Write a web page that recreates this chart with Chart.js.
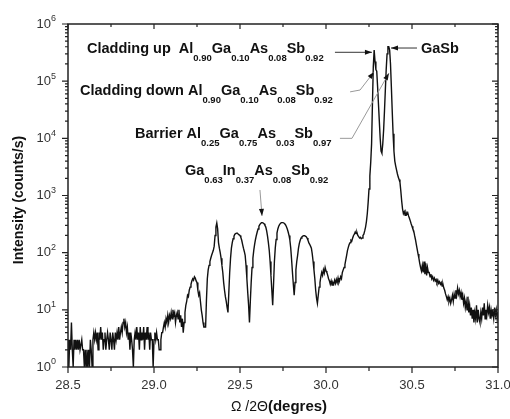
<!DOCTYPE html>
<html>
<head>
<meta charset="utf-8">
<script src="https://cdn.jsdelivr.net/npm/chart.js@4.4.1/dist/chart.umd.min.js"></script>
<style>
  html, body { margin: 0; padding: 0; background: #fff; }
  #wrap { width: 510px; height: 419px; }
</style>
</head>
<body>
<div id="wrap"><canvas id="xrd"></canvas></div>
<script>
// Omega/2Theta scan, counts/s, one reading every 0.005 deg
const scanStep = 0.005;

// 28.500 - 29.295
const backgroundStart = 28.5;
const backgroundCounts = [
  3, 1, 3, 2, 6, 2, 1, 3, 2, 3,
  2, 3, 2, 3, 2, 2, 3, 2, 2, 1,
  2, 1, 2, 1, 2, 1, 3, 2, 1, 3,
  4, 3, 4, 3, 4, 2, 4, 3, 5, 3,
  4, 2, 3, 4, 2, 3, 4, 3, 2, 4,
  3, 2, 4, 3, 2, 4, 3, 4, 3, 5,
  3, 4, 5, 4, 6, 7, 5, 6, 4, 5,
  3, 4, 2, 4, 3, 2, 1, 3, 4, 3,
  5, 3, 4, 2, 5, 3, 4, 3, 5, 2,
  4, 3, 5, 3, 4, 2, 4, 3, 3, 1,
  3, 4, 3, 4, 3, 3, 2, 2, 3, 4,
  4, 5, 6, 5, 7, 6, 8, 6, 8, 7,
  9, 7, 10, 8, 9, 6, 8, 9, 7, 10,
  6, 8, 5, 7, 4, 6, 9, 12, 14, 18,
  17, 22, 25, 28, 32, 35, 33, 38, 36, 32,
  30, 22, 18, 20, 14, 10, 8, 6, 5, 5
];

// 29.300 - 30.215 (GaInAsSb thickness fringes)
const fringeStart = 29.3;
const fringeCounts = [
  5, 15, 35, 50, 60, 70, 80, 90, 100, 110,
  130, 200, 280, 330, 260, 150, 120, 100, 80, 60,
  45, 30, 22, 17, 14, 11, 9, 20, 45, 80,
  120, 150, 175, 195, 210, 215, 220, 220, 210, 205,
  200, 185, 165, 140, 120, 105, 90, 60, 35, 20,
  12, 6, 14, 30, 55, 80, 110, 140, 170, 200,
  230, 260, 290, 310, 325, 335, 335, 330, 320, 300,
  280, 240, 195, 150, 110, 70, 40, 22, 12, 28,
  70, 120, 170, 220, 260, 290, 310, 325, 335, 335,
  335, 330, 320, 305, 285, 260, 230, 200, 165, 120,
  75, 45, 28, 18, 30, 50, 70, 90, 120, 145,
  165, 180, 190, 195, 198, 198, 195, 190, 180, 165,
  150, 140, 130, 120, 95, 70, 50, 35, 22, 16,
  13, 18, 25, 30, 38, 45, 40, 50, 44, 55,
  48, 45, 40, 35, 32, 28, 32, 27, 30, 28,
  33, 29, 34, 30, 36, 30, 33, 38, 35, 45,
  50, 55, 62, 75, 90, 110, 125, 140, 150, 165,
  160, 180, 200, 210, 230, 215, 225, 200, 190, 180,
  185, 175, 180, 200
];

// 30.220 - 30.395 (cladding and GaSb substrate peaks)
const peakStart = 30.22;
const peakCounts = [
  210, 240, 280, 350, 480, 750, 1300, 2200, 3800, 8000,
  40000, 180000, 350000, 220000, 160000, 150000, 80000, 40000, 20000, 10000,
  6000, 5500, 8000, 14000, 30000, 70000, 160000, 300000, 400000, 400000,
  350000, 200000, 80000, 30000, 12000, 6000
];

// 30.400 - 31.000
const tailStart = 30.4;
const tailCounts = [
  4000, 3300, 2800, 2400, 2100, 1900, 1700, 1200, 800, 580,
  480, 520, 450, 510, 470, 500, 440, 400, 360, 320,
  290, 260, 240, 200, 170, 140, 115, 95, 80, 65,
  55, 48, 60, 45, 70, 42, 65, 40, 55, 45,
  45, 38, 42, 35, 38, 33, 36, 32, 34, 30,
  33, 29, 31, 28, 30, 26, 28, 24, 22, 19,
  17, 15, 17, 14, 16, 13, 15, 18, 14, 19,
  16, 22, 18, 24, 19, 22, 17, 20, 15, 18,
  13, 16, 11, 14, 10, 17, 9, 12, 8, 11,
  7, 10, 6, 9, 7, 12, 6, 10, 7, 6,
  9, 7, 11, 8, 13, 7, 10, 8, 12, 9,
  11, 7, 10, 8, 9, 7, 11, 8, 10, 7,
  9
];

const xTicks = [28.5, 29.0, 29.5, 30.0, 30.5, 31.0];
const xMinorTicks = [28.75, 29.25, 29.75, 30.25, 30.75];
const yDecades = [0, 1, 2, 3, 4, 5, 6];

// labels: [text, subscript, text, subscript ...]
const notes = [
  { parts: ['Cladding up  Al', '0.90', 'Ga', '0.10', 'As', '0.08', 'Sb', '0.92'], x: 87, y: 53 },
  { parts: ['Cladding down Al', '0.90', 'Ga', '0.10', 'As', '0.08', 'Sb', '0.92'], x: 80, y: 95 },
  { parts: ['Barrier Al', '0.25', 'Ga', '0.75', 'As', '0.03', 'Sb', '0.97'], x: 135, y: 138 },
  { parts: ['Ga', '0.63', 'In', '0.37', 'As', '0.08', 'Sb', '0.92'], x: 185, y: 175 },
  { parts: ['GaSb'], x: 421, y: 53 }
];

// arrow paths in data units, tip last
const arrows = [
  { path: [[30.052, 3.2e5], [30.267, 3.2e5]], color: '#333' },
  { path: [[30.529, 3.8e5], [30.378, 3.8e5]], color: '#333' },
  { path: [[30.140, 6.5e4], [30.198, 7.0e4], [30.279, 1.45e5]], color: '#999' },
  { path: [[30.081, 1.0e4], [30.151, 1.0e4], [30.366, 1.38e5]], color: '#999' },
  { path: [[29.616, 1250], [29.628, 440]], color: '#999' }
];

const FONT = '"Liberation Sans", Arial, sans-serif';

function toPoints(start, counts) {
  return counts.map((c, i) => ({ x: +(start + i * scanStep).toFixed(3), y: c }));
}

const scan = [
  ...toPoints(backgroundStart, backgroundCounts),
  ...toPoints(fringeStart, fringeCounts),
  ...toPoints(peakStart, peakCounts),
  ...toPoints(tailStart, tailCounts)
];

function drawFormula(ctx, parts, x, y) {
  parts.forEach((s, i) => {
    const sub = i % 2 === 1;
    ctx.font = sub ? 'bold 9.5px ' + FONT : 'bold 14.5px ' + FONT;
    ctx.fillText(s, x, sub ? y + 7.5 : y);
    x += ctx.measureText(s).width;
  });
}

const framePlugin = {
  id: 'frame',
  afterDatasetsDraw(chart) {
    const { ctx, chartArea: a, scales: { x, y } } = chart;
    ctx.save();
    ctx.strokeStyle = '#222';
    ctx.fillStyle = '#333';
    ctx.lineWidth = 1.5;
    ctx.strokeRect(a.left, a.top, a.right - a.left, a.bottom - a.top);

    ctx.lineWidth = 1.2;
    ctx.beginPath();
    xTicks.forEach(v => {
      const px = x.getPixelForValue(v);
      ctx.moveTo(px, a.bottom); ctx.lineTo(px, a.bottom + 6);
      ctx.moveTo(px, a.top); ctx.lineTo(px, a.top + 5);
    });
    xMinorTicks.forEach(v => {
      const px = x.getPixelForValue(v);
      ctx.moveTo(px, a.bottom); ctx.lineTo(px, a.bottom + 4);
      ctx.moveTo(px, a.top); ctx.lineTo(px, a.top + 3);
    });
    yDecades.forEach(n => {
      const py = y.getPixelForValue(Math.pow(10, n));
      ctx.moveTo(a.left - 6, py); ctx.lineTo(a.left, py);
      ctx.moveTo(a.right - 6, py); ctx.lineTo(a.right, py);
      if (n < 6) {
        for (let k = 2; k <= 9; k++) {
          const pm = y.getPixelForValue(k * Math.pow(10, n));
          ctx.moveTo(a.left - 3, pm); ctx.lineTo(a.left, pm);
          ctx.moveTo(a.right - 3, pm); ctx.lineTo(a.right, pm);
        }
      }
    });
    ctx.stroke();

    // tick labels
    ctx.font = '13px ' + FONT;
    ctx.textAlign = 'center';
    ctx.textBaseline = 'middle';
    xTicks.forEach(v => ctx.fillText(v.toFixed(1), x.getPixelForValue(v), a.bottom + 18));
    yDecades.forEach(n => {
      const py = y.getPixelForValue(Math.pow(10, n));
      ctx.font = '13px ' + FONT;
      ctx.textAlign = 'right';
      ctx.fillText('10', a.left - 17, py);
      ctx.font = '9px ' + FONT;
      ctx.textAlign = 'left';
      ctx.fillText(String(n), a.left - 17, py - 5);
    });

    // axis titles
    ctx.fillStyle = '#111';
    ctx.save();
    ctx.translate(19, 200);
    ctx.rotate(-Math.PI / 2);
    ctx.font = 'bold 14px ' + FONT;
    ctx.textAlign = 'center';
    ctx.fillText('Intensity (counts/s)', 0, 0);
    ctx.restore();

    ctx.textAlign = 'left';
    ctx.textBaseline = 'alphabetic';
    ctx.font = '14px ' + FONT;
    ctx.fillText('\u03A9 /2\u0398', 231, 411);
    const w = ctx.measureText('\u03A9 /2\u0398').width;
    ctx.font = 'bold 15px ' + FONT;
    ctx.fillText('(degres)', 231 + w, 411);

    // annotations
    notes.forEach(n => drawFormula(ctx, n.parts, n.x, n.y));

    arrows.forEach(ar => {
      const pts = ar.path.map(p => [x.getPixelForValue(p[0]), y.getPixelForValue(p[1])]);
      ctx.strokeStyle = ar.color;
      ctx.lineWidth = 1;
      ctx.beginPath();
      pts.forEach((p, i) => i ? ctx.lineTo(p[0], p[1]) : ctx.moveTo(p[0], p[1]));
      ctx.stroke();
      const [tx, ty] = pts[pts.length - 1];
      const [fx, fy] = pts[pts.length - 2];
      const ang = Math.atan2(ty - fy, tx - fx);
      ctx.fillStyle = '#111';
      ctx.beginPath();
      ctx.moveTo(tx, ty);
      ctx.lineTo(tx - 7 * Math.cos(ang) + 2.5 * Math.sin(ang), ty - 7 * Math.sin(ang) - 2.5 * Math.cos(ang));
      ctx.lineTo(tx - 7 * Math.cos(ang) - 2.5 * Math.sin(ang), ty - 7 * Math.sin(ang) + 2.5 * Math.cos(ang));
      ctx.closePath();
      ctx.fill();
    });
    ctx.restore();
  }
};

new Chart(document.getElementById('xrd'), {
  type: 'line',
  data: {
    datasets: [{
      label: 'XRD',
      data: scan,
      borderColor: '#111',
      borderWidth: 1.4,
      pointRadius: 0,
      tension: 0
    }]
  },
  options: {
    responsive: true,
    maintainAspectRatio: false,
    animation: false,
    layout: { padding: { left: 68, right: 12, top: 24, bottom: 52 } },
    plugins: { legend: { display: false }, tooltip: { enabled: false } },
    scales: {
      x: { type: 'linear', min: 28.5, max: 31, display: false },
      y: { type: 'logarithmic', min: 1, max: 1e6, display: false }
    }
  },
  plugins: [framePlugin]
});
</script>
</body>
</html>
